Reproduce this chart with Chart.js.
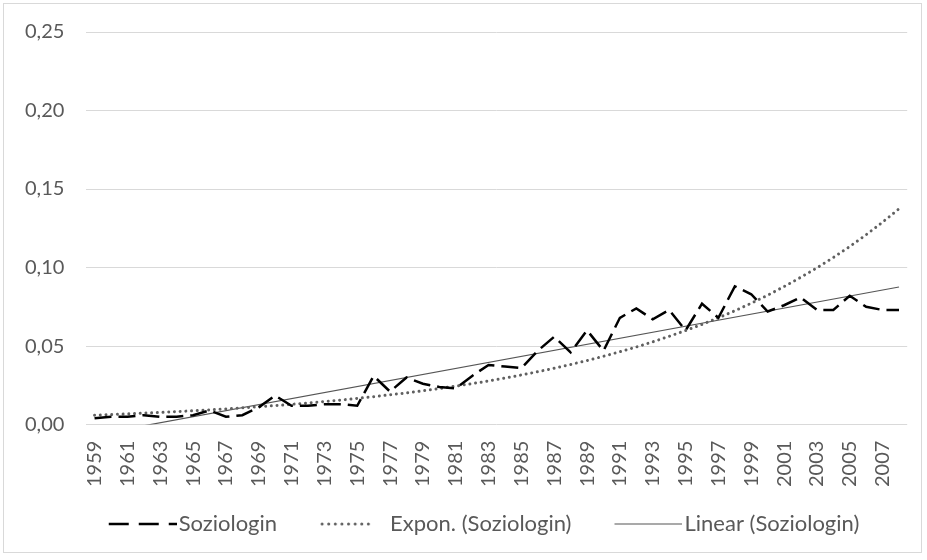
<!DOCTYPE html>
<html>
<head>
<meta charset="utf-8">
<script src="https://cdn.jsdelivr.net/npm/chart.js@4/dist/chart.umd.min.js"></script>
<style>
  html, body { margin: 0; padding: 0; background: #fff; }
  #frame {
    position: absolute; left: 3px; top: 3px;
    width: 917px; height: 548px;
    border: 1px solid #d9d9d9;
  }
</style>
</head>
<body>
<div id="frame"><canvas id="chart" width="917" height="548"></canvas></div>
<script>
// Categories: one per year, only every second one is labelled
const years = [
  '1959','1960','1961','1962','1963','1964','1965','1966','1967','1968',
  '1969','1970','1971','1972','1973','1974','1975','1976','1977','1978',
  '1979','1980','1981','1982','1983','1984','1985','1986','1987','1988',
  '1989','1990','1991','1992','1993','1994','1995','1996','1997','1998',
  '1999','2000','2001','2002','2003','2004','2005','2006','2007','2008'
];

// Share per year
const soziologin = [
  0.004, 0.005, 0.005, 0.006, 0.005, 0.005, 0.006, 0.009, 0.005, 0.006,
  0.011, 0.0185, 0.012, 0.012, 0.013, 0.013, 0.012, 0.031, 0.021, 0.030,
  0.026, 0.024, 0.023, 0.031, 0.038, 0.037, 0.036, 0.047, 0.056, 0.046,
  0.060, 0.047, 0.068, 0.074, 0.067, 0.073, 0.060, 0.077, 0.068, 0.088,
  0.083, 0.072, 0.076, 0.081, 0.073, 0.073, 0.082, 0.075, 0.073, 0.073
];

// Exponential trend line, read per year
const exponTrend = [
  0.0060, 0.0064, 0.0068, 0.0073, 0.0077, 0.0083, 0.0088, 0.0094, 0.0100, 0.0107,
  0.0114, 0.0121, 0.0129, 0.0138, 0.0147, 0.0156, 0.0167, 0.0178, 0.0190, 0.0202,
  0.0215, 0.0230, 0.0245, 0.0261, 0.0278, 0.0296, 0.0316, 0.0337, 0.0359, 0.0383,
  0.0408, 0.0435, 0.0464, 0.0494, 0.0527, 0.0562, 0.0599, 0.0638, 0.0680, 0.0725,
  0.0773, 0.0824, 0.0879, 0.0937, 0.0998, 0.1064, 0.1134, 0.1209, 0.1289, 0.1374
];

// Linear trend line: value at first and last year
const linearEnds = [-0.0065, 0.0876];

const yMin = 0, yMax = 0.25, yStep = 0.05;

const TEXT = '#595959';
const GRID = '#d9d9d9';

const linearTrend = years.map((y, i) =>
  i === 0 ? linearEnds[0] : (i === years.length - 1 ? linearEnds[1] : null));

// legend samples are drawn as small canvases so the dash pattern shows.
// The image is a bit wider than the legend box so the sample sits close to its text.
const LEGEND_BOX = 84, LEGEND_OVER = 9, LEGEND_LINE = 68;
function legendSample(color, width, dash, cap, endInset) {
  const c = document.createElement('canvas');
  c.width = LEGEND_BOX + 2 * LEGEND_OVER;
  c.height = 8;
  const g = c.getContext('2d');
  g.strokeStyle = color;
  g.lineWidth = width;
  g.lineCap = cap || 'butt';
  g.setLineDash(dash);
  g.beginPath();
  g.moveTo(c.width - LEGEND_LINE + (cap === 'round' ? 2 : 0), 4);
  g.lineTo(c.width - endInset, 4);
  g.stroke();
  return c;
}
const samples = [
  legendSample('#000000', 2.5, [20, 10], 'butt', 0),
  legendSample('#606060', 3, [0.01, 6.6], 'round', 15),
  legendSample('#555555', 1.2, [], 'butt', 0)
];

new Chart(document.getElementById('chart'), {
  type: 'line',
  data: {
    labels: years,
    datasets: [
      {
        label: 'Soziologin',
        data: soziologin,
        borderColor: '#000000',
        borderWidth: 2.5,
        borderDash: [17, 7],
        pointRadius: 0,
        tension: 0
      },
      {
        label: 'Expon. (Soziologin)',
        data: exponTrend,
        borderColor: '#606060',
        borderWidth: 3,
        borderDash: [0.01, 5.7],
        borderCapStyle: 'round',
        pointRadius: 0,
        tension: 0
      },
      {
        label: 'Linear (Soziologin)',
        data: linearTrend,
        borderColor: '#555555',
        borderWidth: 1.2,
        spanGaps: true,
        pointRadius: 0,
        tension: 0
      }
    ]
  },
  options: {
    responsive: false,
    animation: false,
    layout: { padding: { left: 18, right: 0, top: 28, bottom: 7 } },
    scales: {
      x: {
        offset: true,
        grid: { display: false },
        border: { display: false },
        ticks: {
          autoSkip: false,
          minRotation: 90,
          maxRotation: 90,
          padding: 8,
          color: TEXT,
          font: { family: 'Lato', size: 20, lineHeight: 0.7 },
          callback: function (value, index) {
            return index % 2 === 0 ? this.getLabelForValue(value) : '';
          }
        }
      },
      y: {
        min: yMin,
        max: yMax,
        grid: { color: GRID, lineWidth: 1, drawTicks: true, tickLength: 19, tickColor: 'rgba(0,0,0,0)' },
        border: { display: false },
        ticks: {
          stepSize: yStep,
          padding: 3,
          color: TEXT,
          font: { family: 'Lato', size: 20 },
          callback: v => v.toFixed(2).replace('.', ',')
        }
      }
    },
    plugins: {
      tooltip: { enabled: false },
      legend: {
        position: 'bottom',
        labels: {
          usePointStyle: true,
          pointStyleWidth: LEGEND_BOX,
          padding: 18,
          color: TEXT,
          font: { family: 'Lato', size: 22 },
          generateLabels(chart) {
            const items = Chart.defaults.plugins.legend.labels.generateLabels(chart);
            items.forEach((it, i) => { it.pointStyle = samples[i]; });
            return items;
          }
        }
      }
    }
  }
});
</script>
</body>
</html>
